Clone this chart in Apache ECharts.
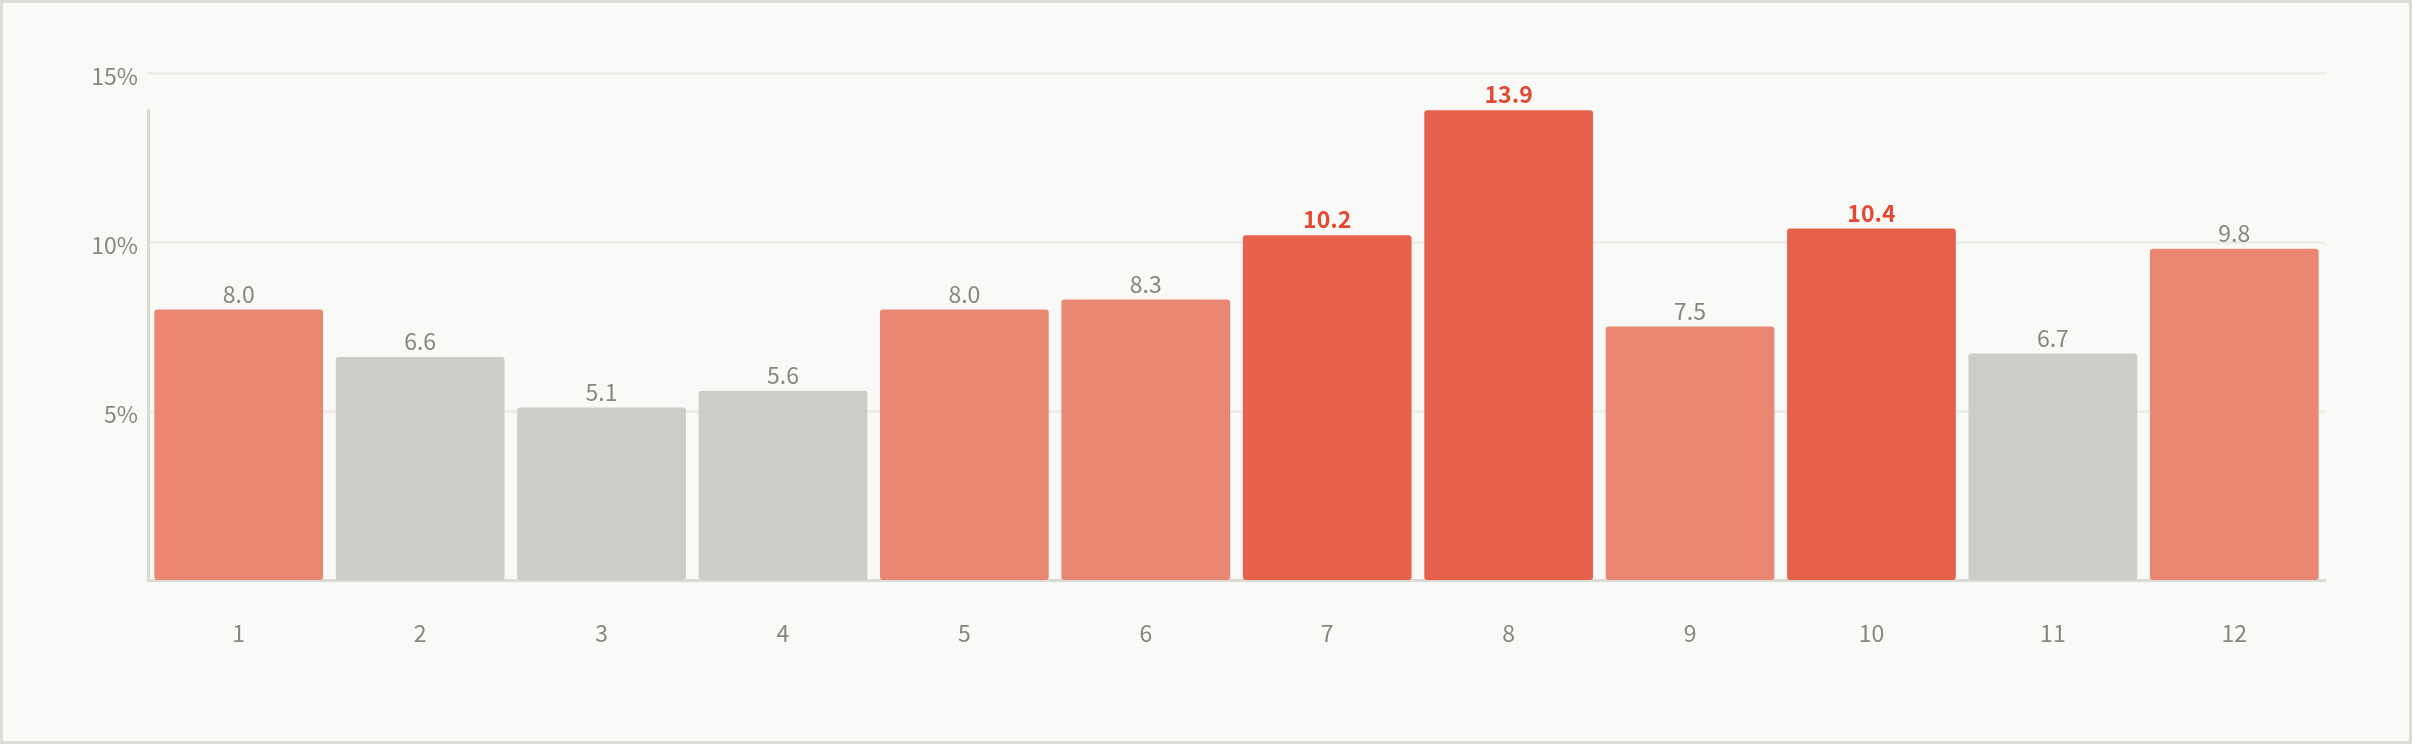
<!DOCTYPE html>
<html>
<head>
<meta charset="utf-8">
<script src="https://cdn.jsdelivr.net/npm/echarts@6/dist/echarts.min.js"></script>
<style>
    html, body { margin: 0; padding: 0; background: #f9f9f7; }
    #wrap {
        width: 2412px; height: 744px; box-sizing: border-box;
        border: 3px solid #dddcd6; background: #f9f9f7;
    }
    #chart { width: 2406px; height: 738px; }
</style>
</head>
<body>
<div id="wrap"><div id="chart"></div></div>
<script>
var months = ['1', '2', '3', '4', '5', '6', '7', '8', '9', '10', '11', '12'];
var rates = [8.0, 6.6, 5.1, 5.6, 8.0, 8.3, 10.2, 13.9, 7.5, 10.4, 6.7, 9.8];
var yTicks = [0, 5, 10, 15];

var fontName = '"Noto Sans CJK SC", "Noto Sans", sans-serif';
var labelGray = '#878680';
var lineGray = '#dbdad4';

// 三档颜色: 低 / 中 / 高
function barColor(v) {
    if (v >= 10) return '#e7614d';
    if (v >= 7) return '#e98773';
    return '#cdccc7';
}

var gridLeft = 145, gridRight = 84, gridTop = 70, gridBottom = 161;
var yMax = yTicks[yTicks.length - 1];
var dataMax = Math.max.apply(null, rates);
var plotH = 738 - gridTop - gridBottom;
// y轴线只画到最大值
var axisTop = gridTop + plotH * (1 - dataMax / yMax);

var barData = rates.map(function (v) {
    var hi = v >= 10;
    return {
        value: v,
        itemStyle: { color: barColor(v) },
        label: {
            color: hi ? '#e24a33' : labelGray,
            fontWeight: hi ? 'bold' : 'normal'
        }
    };
});

var myChart = echarts.init(document.getElementById('chart'));
myChart.setOption({
    backgroundColor: '#f9f9f7',
    animation: false,
    textStyle: { fontFamily: fontName },
    grid: [
        { left: gridLeft, right: gridRight, top: gridTop, bottom: gridBottom },
        { left: gridLeft, right: gridRight, top: axisTop, bottom: gridBottom }
    ],
    xAxis: [{
        type: 'category',
        gridIndex: 0,
        data: months,
        axisTick: { show: false },
        axisLine: { lineStyle: { color: lineGray, width: 3 } },
        axisLabel: { color: labelGray, fontSize: 23, margin: 42, fontFamily: fontName }
    }, {
        type: 'category',
        gridIndex: 1,
        data: months,
        show: false
    }],
    yAxis: [{
        type: 'value',
        gridIndex: 0,
        min: 0,
        max: yMax,
        interval: 5,
        axisLine: { show: false },
        axisTick: { show: false },
        splitLine: { lineStyle: { color: '#eeede8', width: 3 } },
        axisLabel: {
            color: labelGray, fontSize: 23, margin: 10, fontFamily: fontName,
            showMinLabel: false,
            formatter: function (v) { return '{p|' + v + '%}'; },
            rich: {
                p: {
                    color: labelGray, fontSize: 23, fontFamily: fontName,
                    padding: [7, 0, 0, 0]
                }
            }
        }
    }, {
        type: 'value',
        gridIndex: 1,
        min: 0,
        max: dataMax,
        axisLine: { show: true, lineStyle: { color: lineGray, width: 3 } },
        axisTick: { show: false },
        axisLabel: { show: false },
        splitLine: { show: false }
    }],
    series: [{
        type: 'bar',
        xAxisIndex: 0,
        yAxisIndex: 0,
        data: barData,
        barCategoryGap: '7%',
        itemStyle: { borderRadius: 3 },
        label: {
            show: true,
            position: 'top',
            distance: 4,
            fontSize: 23,
            fontFamily: fontName,
            formatter: function (p) { return p.value.toFixed(1); }
        }
    }]
});
</script>
</body>
</html>
